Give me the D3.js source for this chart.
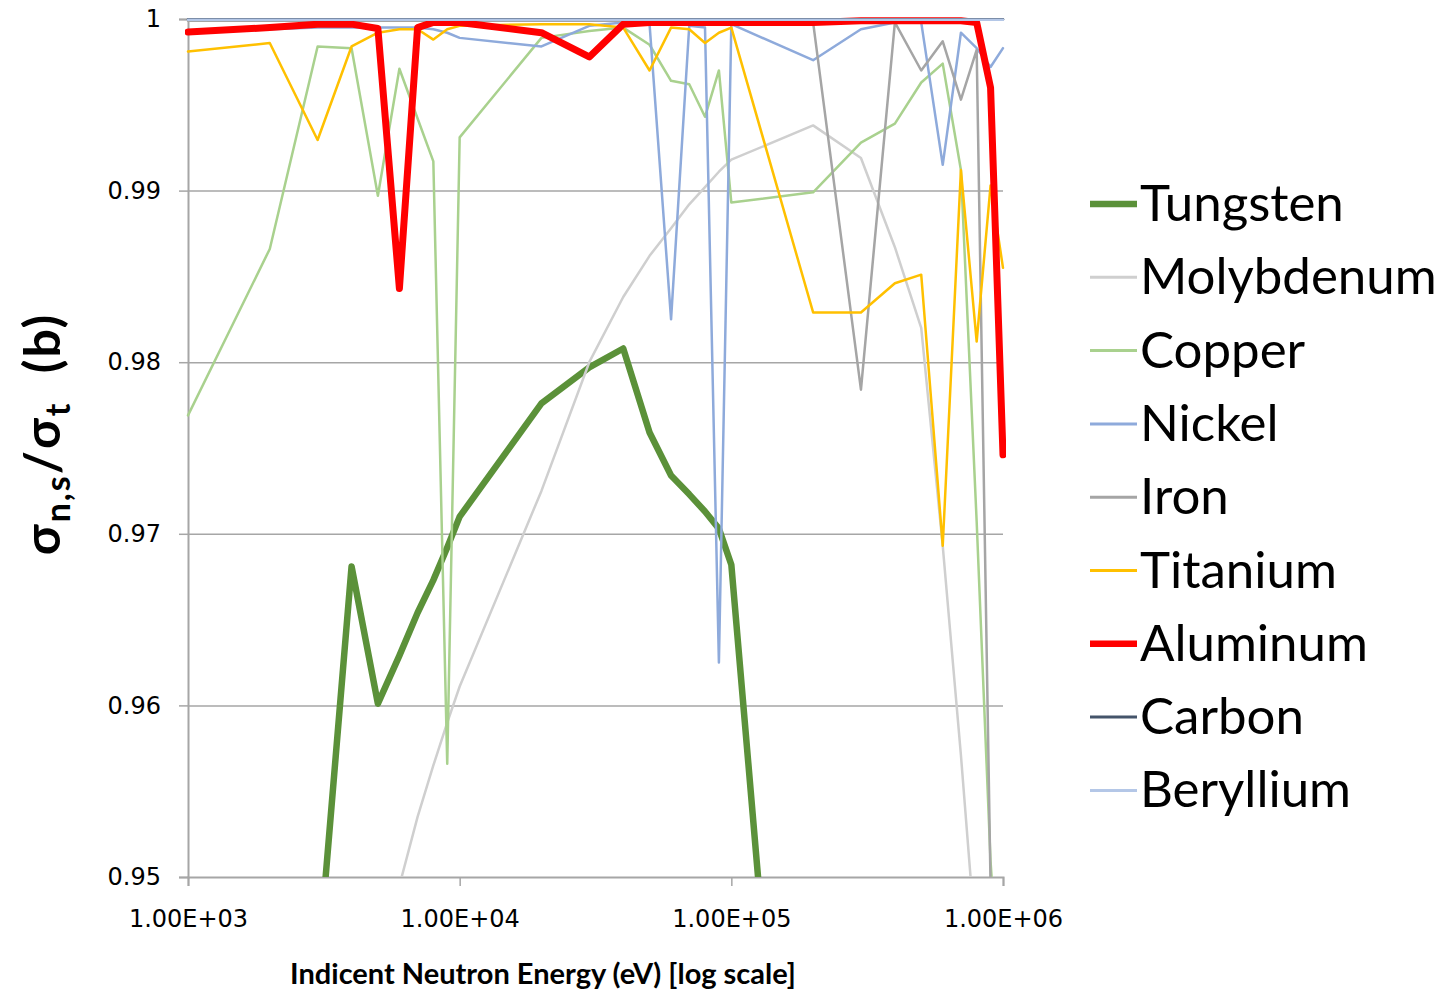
<!DOCTYPE html>
<html>
<head>
<meta charset="utf-8">
<script src="https://cdn.jsdelivr.net/npm/d3@7"></script>
<style>
  html, body { margin: 0; padding: 0; background: #ffffff; }
  svg { display: block; }
</style>
</head>
<body>
<svg id="chart" width="1439" height="991"></svg>
<script>
// ---------- data ----------
const energies = [1000, 2000, 3000, 4000, 5000, 6000, 7000, 8000, 9000,
                  10000, 20000, 30000, 40000, 50000, 60000, 70000, 80000, 90000,
                  100000, 200000, 300000, 400000, 500000, 600000, 700000, 800000, 900000,
                  1000000];

const tungsten   = [0.9300, 0.9370, 0.9444, 0.9681, 0.9601, 0.9629, 0.9654, 0.9673, 0.9692,
                    0.9710, 0.9776, 0.9797, 0.9808, 0.9759, 0.9734, 0.9723, 0.9713, 0.9703,
                    0.9682, 0.9125, 0.9050, 0.9000, 0.8950, 0.8900, 0.8850, 0.8800, 0.8750,
                    0.8700];
const molybdenum = [0.9100, 0.9250, 0.9350, 0.9410, 0.9460, 0.9495, 0.9535, 0.9565, 0.9590,
                    0.9611, 0.9725, 0.9800, 0.9838, 0.9862, 0.9878, 0.9892, 0.9902, 0.9911,
                    0.9918, 0.9938, 0.9919, 0.9867, 0.9820, 0.9693, 0.9571, 0.9455, 0.9350,
                    0.9250];
const copper     = [0.9769, 0.9866, 0.9984, 0.9983, 0.9897, 0.9971, 0.9942, 0.9917, 0.9566,
                    0.9931, 0.9989, 0.9993, 0.9995, 0.9985, 0.9964, 0.9962, 0.9943, 0.9970,
                    0.9893, 0.9899, 0.9928, 0.9939, 0.9963, 0.9974, 0.9912, 0.9707, 0.9509,
                    0.9400];
const nickel     = [0.9992, 0.9994, 0.9995, 0.9995, 0.9995, 0.9995, 0.9995, 0.9994, 0.9992,
                    0.9989, 0.9984, 0.9996, 0.9998, 0.9997, 0.9825, 0.9996, 0.9995, 0.9625,
                    0.9997, 0.9976, 0.9994, 0.9998, 0.9998, 0.9915, 0.9992, 0.9983, 0.9972,
                    0.9983];
const iron       = [0.9999, 0.9999, 0.9999, 0.9999, 0.9999, 0.9999, 0.9999, 0.9999, 0.9999,
                    0.9999, 0.9999, 0.9999, 0.9999, 0.9999, 0.9999, 0.9999, 0.9999, 0.9999,
                    0.9999, 0.9998, 0.9784, 0.9998, 0.9970, 0.9987, 0.9953, 0.9982, 0.9495,
                    0.9400];
const titanium   = [0.9981, 0.9986, 0.99295, 0.9984, 0.9992, 0.9994, 0.9994, 0.9988, 0.9994,
                    0.9996, 0.9997, 0.9997, 0.9995, 0.9970, 0.9995, 0.9994, 0.9986, 0.9992,
                    0.9995, 0.9829, 0.9829, 0.9846, 0.9851, 0.9693, 0.9912, 0.9812, 0.9903,
                    0.9855];
const aluminum   = [0.99924, 0.9995, 0.9997, 0.9997, 0.99945, 0.9843, 0.9995, 0.9998, 0.9998,
                    0.9998, 0.9992, 0.99779, 0.9997, 0.9998, 0.9998, 0.9998, 0.9998, 0.9998,
                    0.9998, 0.9998, 0.9999, 0.9999, 0.9999, 0.9999, 0.9999, 0.9998, 0.9960,
                    0.9746];
const carbon     = [0.99998, 0.99998, 0.99998, 0.99998, 0.99998, 0.99998, 0.99998, 0.99998, 0.99998,
                    0.99998, 0.99998, 0.99998, 0.99998, 0.99998, 0.99998, 0.99998, 0.99998, 0.99998,
                    0.99998, 0.99998, 0.99998, 0.99998, 0.99998, 0.99998, 0.99998, 0.99998, 0.99998,
                    0.99998];
const beryllium  = [0.99995, 0.99995, 0.99995, 0.99995, 0.99995, 0.99995, 0.99995, 0.99995, 0.99995,
                    0.99995, 0.99995, 0.99995, 0.99995, 0.99995, 0.99995, 0.99995, 0.99995, 0.99995,
                    0.99995, 0.99995, 0.99995, 0.99995, 0.99995, 0.99995, 0.99995, 0.99995, 0.99995,
                    0.99995];

const seriesNames  = ["Tungsten", "Molybdenum", "Copper", "Nickel", "Iron", "Titanium", "Aluminum", "Carbon", "Beryllium"];
const seriesValues = [tungsten, molybdenum, copper, nickel, iron, titanium, aluminum, carbon, beryllium];
const seriesColors = ["#5b9139", "#cfcfcf", "#a9d18e", "#8eaadb", "#a5a5a5", "#ffc000", "#ff0000", "#44546a", "#b4c7e7"];
const seriesWidths = [6.5, 2.5, 2.5, 2.5, 2.5, 2.5, 7, 2.5, 2.5];

const xTickValues = [1000, 10000, 100000, 1000000];
const xTickLabels = ["1.00E+03", "1.00E+04", "1.00E+05", "1.00E+06"];
const yTickValues = [1, 0.99, 0.98, 0.97, 0.96, 0.95];
const yTickLabels = ["1", "0.99", "0.98", "0.97", "0.96", "0.95"];

// ---------- layout ----------
const svg = d3.select("#chart");
const plot = { left: 188, top: 19, right: 1003, bottom: 877 };
const gridColor = "#a6a6a6";
const tickFont = "'DejaVu Sans', Verdana, sans-serif";

const x = d3.scaleLog().domain([1000, 1000000]).range([plot.left, plot.right]);
const y = d3.scaleLinear().domain([0.95, 1]).range([plot.bottom, plot.top]);

// gridlines
const grid = svg.append("g")
  .attr("transform", `translate(${plot.left},0)`)
  .call(d3.axisLeft(y).tickValues(yTickValues.slice(0, 5)).tickSize(-(plot.right - plot.left)).tickFormat(""));
grid.select(".domain").remove();
grid.selectAll("line").attr("stroke", gridColor).attr("stroke-width", 1.5);

// y axis
const yAxis = svg.append("g")
  .attr("transform", `translate(${plot.left},0)`)
  .call(d3.axisLeft(y).tickValues(yTickValues).tickSize(9).tickPadding(18)
        .tickFormat((d, i) => yTickLabels[i]));
yAxis.select(".domain").attr("stroke", gridColor).attr("stroke-width", 2);
yAxis.selectAll("line").attr("stroke", gridColor).attr("stroke-width", 1.5);
yAxis.selectAll("text").attr("font-family", tickFont).attr("font-size", 24).attr("fill", "#000");

// x axis
const xAxis = svg.append("g")
  .attr("transform", `translate(0,${plot.bottom})`)
  .call(d3.axisBottom(x).tickValues(xTickValues).tickSize(9).tickPadding(24)
        .tickFormat((d, i) => xTickLabels[i]));
xAxis.select(".domain").attr("stroke", gridColor).attr("stroke-width", 2);
xAxis.selectAll("line").attr("stroke", gridColor).attr("stroke-width", 1.5);
xAxis.selectAll("text").attr("font-family", tickFont).attr("font-size", 24).attr("fill", "#000");

// clip
svg.append("clipPath").attr("id", "plotclip")
  .append("rect")
  .attr("x", plot.left - 3).attr("y", plot.top - 4)
  .attr("width", plot.right - plot.left + 6).attr("height", plot.bottom - plot.top + 4);

const line = d3.line()
  .x((d, i) => x(energies[i]))
  .y(d => y(d));

const lines = svg.append("g").attr("clip-path", "url(#plotclip)");
seriesValues.forEach((vals, k) => {
  lines.append("path")
    .datum(vals)
    .attr("d", line)
    .attr("fill", "none")
    .attr("stroke", seriesColors[k])
    .attr("stroke-width", seriesWidths[k])
    .attr("stroke-linejoin", "round")
    .attr("stroke-linecap", "round");
});

// legend
const legend = svg.append("g");
const legTop = 204, legStep = 73.3;
seriesNames.forEach((name, k) => {
  const cy = legTop + k * legStep;
  legend.append("line")
    .attr("x1", 1090).attr("x2", 1137)
    .attr("y1", cy).attr("y2", cy)
    .attr("stroke", seriesColors[k])
    .attr("stroke-width", seriesWidths[k] === 2.5 ? 3 : 6.5);
  legend.append("text")
    .attr("x", 1140).attr("y", cy + 17)
    .attr("font-family", "Lato, 'Open Sans', sans-serif")
    .attr("font-size", 51)
    .attr("fill", "#000")
    .text(name);
});

// y title
const yTitle = svg.append("text")
  .attr("transform", "translate(60,434) rotate(-90)")
  .attr("text-anchor", "middle")
  .attr("font-family", "Lato, 'Open Sans', sans-serif")
  .attr("font-weight", "bold")
  .attr("font-size", 50)
  .attr("letter-spacing", 2)
  .attr("fill", "#000");
yTitle.append("tspan").text("σ");
yTitle.append("tspan").attr("font-size", 34).attr("dy", 10).text("n,s");
yTitle.append("tspan").attr("dy", -10).text("/σ");
yTitle.append("tspan").attr("font-size", 34).attr("dy", 10).text("t");
yTitle.append("tspan").attr("dy", -10).text("\u00a0 (b)");

// x title
svg.append("text")
  .attr("x", 543).attr("y", 984)
  .attr("text-anchor", "middle")
  .attr("font-family", "Lato, 'Open Sans', sans-serif")
  .attr("font-weight", "bold")
  .attr("font-size", 29)
  .attr("fill", "#000")
  .text("Indicent Neutron Energy (eV) [log scale]");
</script>
</body>
</html>
